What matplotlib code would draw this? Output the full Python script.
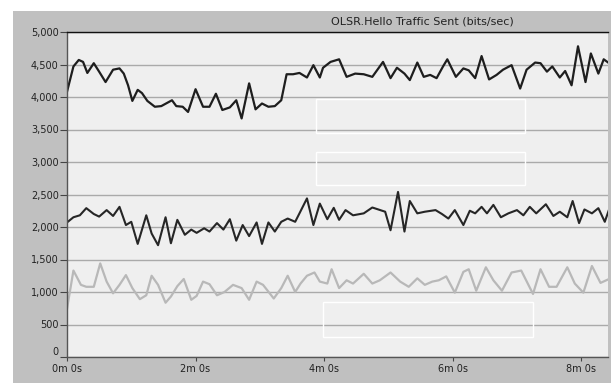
import matplotlib
matplotlib.use("Agg")
import matplotlib.pyplot as plt
from matplotlib.patches import Rectangle

# sample times (seconds) and bits/sec for each node trace
t_top = [0, 6, 11, 15, 19, 25, 30, 36, 43, 49, 53, 57, 61, 66, 70, 75, 82, 88, 98, 102,
         108, 113, 120, 127, 133, 139, 145, 152, 158, 163, 170, 176, 182, 188, 194, 200,
         205, 211, 217, 224, 230, 236, 239, 246, 254, 261, 269, 277, 285, 295, 302, 308,
         315, 320, 327, 333, 339, 345, 351, 355, 363, 370, 375, 381, 387, 394, 401, 407,
         415, 423, 429, 437, 442, 448, 453, 460, 465, 471, 477, 484, 489, 496, 501, 506]
v_top = [4080, 4470, 4570, 4540, 4370, 4520, 4390, 4230, 4420, 4440, 4360, 4180, 3940,
         4110, 4060, 3940, 3850, 3860, 3950, 3860, 3850, 3770, 4120, 3850, 3850, 4050,
         3800, 3840, 3950, 3670, 4210, 3810, 3900, 3850, 3860, 3950, 4350, 4350, 4370,
         4300, 4490, 4300, 4450, 4540, 4580, 4310, 4360, 4350, 4310, 4540, 4290, 4450,
         4360, 4260, 4530, 4310, 4340, 4290, 4470, 4580, 4310, 4440, 4410, 4290, 4630,
         4270, 4340, 4420, 4490, 4130, 4420, 4530, 4520, 4390, 4470, 4300, 4400, 4180,
         4780, 4230, 4670, 4360, 4580, 4520]

t_mid = [0, 6, 12, 18, 25, 30, 37, 43, 49, 55, 60, 66, 74, 79, 85, 92, 97, 103, 110, 116,
         121, 128, 133, 140, 146, 152, 158, 164, 170, 177, 182, 188, 194, 200, 206, 213,
         217, 224, 230, 236, 243, 249, 254, 260, 267, 277, 285, 297, 302, 309, 315, 320,
         327, 334, 344, 350, 356, 362, 370, 376, 381, 387, 392, 398, 405, 412, 420, 426,
         432, 438, 447, 454, 460, 467, 472, 478, 483, 490, 496, 502, 506]
v_mid = [2070, 2150, 2180, 2290, 2200, 2160, 2260, 2170, 2310, 2030, 2080, 1740, 2180,
         1900, 1720, 2150, 1750, 2110, 1880, 1960, 1910, 1980, 1930, 2060, 1960, 2120,
         1790, 2030, 1860, 2070, 1740, 2070, 1930, 2080, 2130, 2080, 2210, 2440, 2030,
         2360, 2120, 2295, 2110, 2260, 2180, 2210, 2300, 2235, 1950, 2540, 1930, 2400,
         2210, 2235, 2260, 2200, 2130, 2260, 2030, 2250, 2210, 2310, 2210, 2340, 2150,
         2210, 2260, 2180, 2310, 2210, 2350, 2170, 2235, 2150, 2400, 2060, 2270, 2210,
         2290, 2080, 2270]

t_low = [0, 6, 13, 18, 25, 31, 37, 43, 49, 55, 61, 68, 74, 79, 85, 92, 97, 103, 109, 116,
         121, 127, 133, 140, 147, 155, 163, 170, 177, 183, 193, 200, 206, 213, 218, 224,
         231, 236, 243, 247, 254, 261, 267, 277, 285, 292, 302, 311, 319, 327, 334, 341,
         347, 354, 362, 370, 375, 382, 391, 398, 406, 415, 424, 435, 442, 450, 457, 467,
         474, 482, 490, 498, 506]
v_low = [740, 1330, 1110, 1080, 1080, 1440, 1160, 980, 1110, 1260, 1060, 890, 950, 1250,
         1110, 835, 930, 1090, 1200, 880, 940, 1160, 1120, 950, 1000, 1110, 1060, 880,
         1160, 1110, 900, 1060, 1250, 1000, 1130, 1250, 1300, 1160, 1130, 1350, 1060,
         1180, 1130, 1280, 1130, 1180, 1300, 1160, 1080, 1210, 1110, 1160, 1180, 1240,
         990, 1310, 1350, 1020, 1380, 1180, 1020, 1300, 1330, 970, 1350, 1080, 1080, 1380,
         1130, 990, 1400, 1140, 1200]

y_ticks = [0, 500, 1000, 1500, 2000, 2500, 3000, 3500, 4000, 4500, 5000]
x_ticks = [0, 120, 240, 360, 480]
x_labels = ["0m 0s", "2m 0s", "4m 0s", "6m 0s", "8m 0s"]
title = "OLSR.Hello Traffic Sent (bits/sec)"

fig = plt.figure(figsize=(6.11, 3.83), dpi=100, facecolor="white")
# grey window panel behind the graph
fig.patches.append(Rectangle((13 / 611, 0), 1, 372 / 383, transform=fig.transFigure,
                             facecolor="#c0c0c0", edgecolor="none", zorder=-10))

ax = fig.add_axes([67 / 611, 26 / 383, 541 / 611, 325 / 383])
ax.set_facecolor("#efefef")

ax.plot(t_low, v_low, color="#b8b8b8", lw=1.6, solid_joinstyle="round")
ax.plot(t_mid, v_mid, color="#262626", lw=1.5, solid_joinstyle="round")
ax.plot(t_top, v_top, color="#1e1e1e", lw=1.6, solid_joinstyle="round")

ax.set_xlim(0, 505)
ax.set_ylim(0, 5000)
ax.set_yticks(y_ticks)
ax.set_yticklabels([f"{v:,}" for v in y_ticks])
ax.set_xticks(x_ticks)
ax.set_xticklabels(x_labels)
ax.yaxis.grid(True, color="#aaaaaa", lw=1)
ax.set_axisbelow(True)
ax.tick_params(axis="y", direction="out", length=5, width=0.8, color="#444444",
               labelsize=7, labelcolor="#222222", pad=1)
ax.tick_params(axis="x", direction="out", length=3, width=0.8, color="#444444",
               labelsize=7, labelcolor="#222222", pad=2)
# lift the bottom y label a little so it clears "0m 0s"
ax.get_yticklabels()[0].set_va("bottom")

for side in ["left", "bottom"]:
    ax.spines[side].set_color("#555555")
    ax.spines[side].set_linewidth(1)
ax.spines["top"].set_color("#111111")
ax.spines["top"].set_linewidth(1)
ax.spines["right"].set_visible(False)

# empty legend frames
for x0, y0, w, h in [(0.460, 0.689, 0.387, 0.105),
                     (0.460, 0.529, 0.387, 0.102),
                     (0.473, 0.062, 0.388, 0.107)]:
    ax.add_patch(Rectangle((x0, y0), w, h, transform=ax.transAxes,
                           fill=False, edgecolor="white", lw=1, zorder=3))

fig.text(422 / 611, 1 - 21 / 383, title, ha="center", va="center",
         fontsize=8, color="#222222")

fig.savefig("out.png", dpi=100, facecolor=fig.get_facecolor())
